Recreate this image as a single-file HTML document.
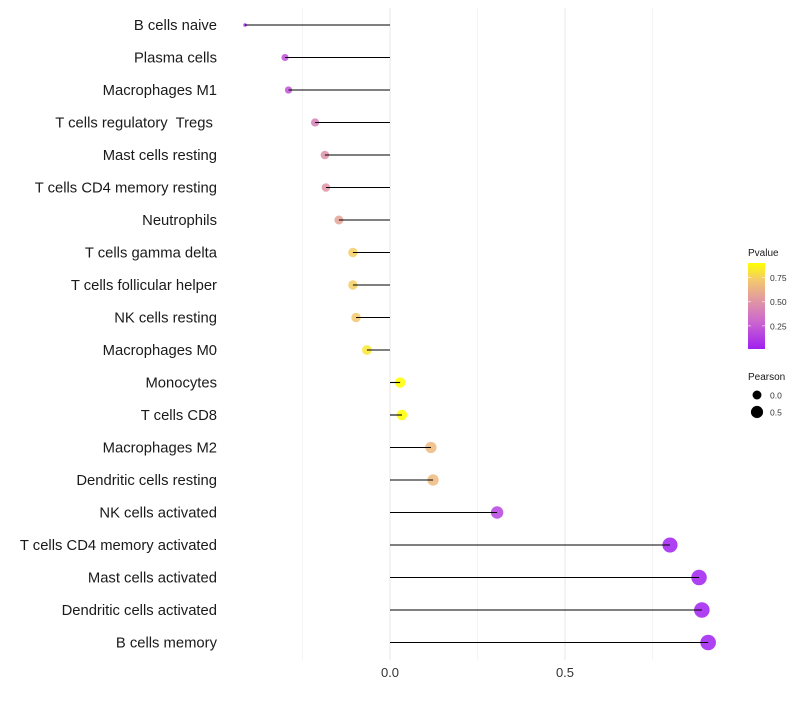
<!DOCTYPE html>
<html><head><meta charset="utf-8"><style>
body{margin:0;background:#fff;font-family:"Liberation Sans",sans-serif}
svg text{font-family:"Liberation Sans",sans-serif;white-space:pre}
</style></head><body>
<svg id="chart" width="800" height="700"></svg>
<script>
const categories=["B cells naive","Plasma cells","Macrophages M1","T cells regulatory  Tregs ","Mast cells resting","T cells CD4 memory resting","Neutrophils","T cells gamma delta","T cells follicular helper","NK cells resting","Macrophages M0","Monocytes","T cells CD8","Macrophages M2","Dendritic cells resting","NK cells activated","T cells CD4 memory activated","Mast cells activated","Dendritic cells activated","B cells memory"];
const pearson=[-0.414,-0.30,-0.29,-0.214,-0.186,-0.183,-0.146,-0.106,-0.106,-0.097,-0.066,0.029,0.034,0.117,0.123,0.306,0.80,0.883,0.891,0.909];
const pvalue=[0.05,0.2,0.22,0.4,0.48,0.5,0.56,0.74,0.74,0.72,0.82,0.9,0.9,0.66,0.66,0.15,0.01,0.01,0.01,0.01];
const xTicks=[0,0.5];
const xTickLabels=["0.0","0.5"];
const minorTicks=[-0.25,0.25,0.75];
const pTicks=[0.25,0.5,0.75];
const pTickLabels=["0.25","0.50","0.75"];
const sizeLegend=[0,0.5];
const sizeLegendLabels=["0.0","0.5"];

const NS="http://www.w3.org/2000/svg";
const svg=document.getElementById('chart');
function mk(t,a,p){const e=document.createElementNS(NS,t);for(const k in a)e.setAttribute(k,a[k]);(p||svg).appendChild(e);return e;}
const xs=v=>390+v*350;
const ys=i=>25+i*32.5;
const pmin=0.01,pmax=0.9;
const stops=[[0,[160,32,240]],[0.33,[205,105,205]],[0.6,[228,158,155]],[0.8,[243,200,110]],[1,[255,255,0]]];
function colT(t){t=Math.max(0,Math.min(1,t));for(let k=1;k<stops.length;k++){if(t<=stops[k][0]){const [t0,a]=stops[k-1],[t1,b]=stops[k];const f=(t-t0)/(t1-t0);return `rgb(${a.map((c,i)=>Math.round(c+(b[i]-c)*f)).join(',')})`;}}return 'rgb(255,255,0)';}
const col=p=>colT((p-pmin)/(pmax-pmin));
const smin=Math.min(...pearson),smax=Math.max(...pearson);
function rad(v){const t=(v-smin)/(smax-smin);return 1.8+6*Math.sqrt(Math.max(0,t));}

minorTicks.forEach(v=>{const g=mk('line',{x1:xs(v),x2:xs(v),y1:8,y2:660,stroke:'#f2f2f2','stroke-width':0.8});
});
xTicks.forEach((v,i)=>{const g=mk('line',{x1:xs(v),x2:xs(v),y1:8,y2:660,stroke:'#ebebeb','stroke-width':1.2});

const t=mk('text',{x:xs(v),y:677,'text-anchor':'middle','font-size':13,fill:'#333'});t.textContent=xTickLabels[i];
});

const defs=mk('defs',{});
categories.forEach((c,i)=>{
 const y=ys(i);
 const lab=mk('text',{x:217,y:y+5,'text-anchor':'end','font-size':14.8,fill:'#1a1a1a'});lab.textContent=c;
 
 const pt=mk('circle',{cx:xs(pearson[i]),cy:y,r:rad(pearson[i]),fill:col(pvalue[i]),'fill-opacity':0.85});
 
 const ln=mk('line',{x1:xs(0),x2:xs(pearson[i]),y1:y,y2:y,stroke:'#000','stroke-width':1.1});
 
});

const lt=mk('text',{x:748,y:256,'font-size':10,fill:'#1a1a1a'});lt.textContent='Pvalue';

const gr=mk('linearGradient',{id:'pg',x1:0,y1:1,x2:0,y2:0},defs);
stops.forEach(s=>mk('stop',{offset:s[0],'stop-color':colT(s[0])},gr));
const bar=mk('rect',{x:748,y:263,width:17,height:86,fill:'url(#pg)'});

const py=p=>349-(p-pmin)/(pmax-pmin)*86;
pTicks.forEach((p,i)=>{
 mk('line',{x1:748,x2:751,y1:py(p),y2:py(p),stroke:'#fff','stroke-opacity':0.6});
 mk('line',{x1:762,x2:765,y1:py(p),y2:py(p),stroke:'#fff','stroke-opacity':0.6});
 const t=mk('text',{x:770,y:py(p)+3.5,'font-size':8.5,fill:'#333'});t.textContent=pTickLabels[i];
 });
const st=mk('text',{x:748,y:380,'font-size':10,fill:'#1a1a1a'});st.textContent='Pearson';

sizeLegend.forEach((v,i)=>{const y=395+i*17;
 const c=mk('circle',{cx:757,cy:y,r:rad(v)-0.7,fill:'#000'});
 const t=mk('text',{x:770,y:y+3.5,'font-size':8.5,fill:'#333'});t.textContent=sizeLegendLabels[i];
 });
</script>
</body></html>
